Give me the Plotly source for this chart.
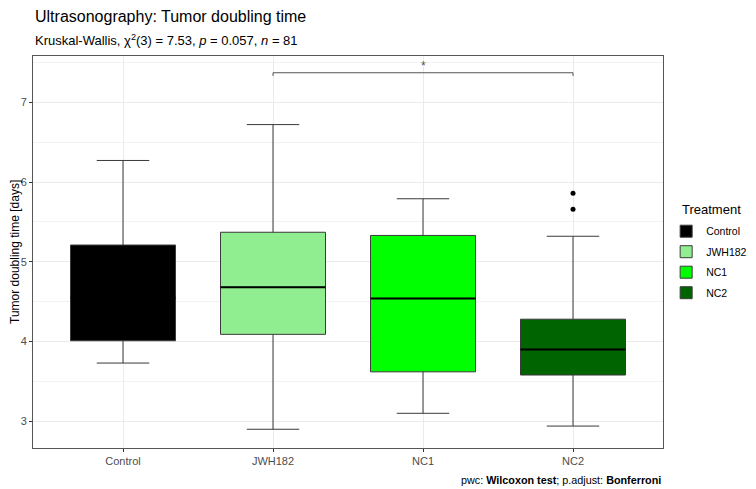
import plotly.graph_objects as go

# box statistics
groups = ["Control", "JWH182", "NC1", "NC2"]
colors = ["#000000", "#90EE90", "#00FF00", "#006400"]
q1 = [4.01, 4.09, 3.62, 3.58]
median = [4.55, 4.68, 4.54, 3.90]
q3 = [5.21, 5.37, 5.33, 4.28]
lower = [3.73, 2.90, 3.10, 2.94]
upper = [6.27, 6.72, 5.79, 5.32]

# outliers (group index, value)
out_group = [3, 3]
out_value = [5.86, 5.66]

# pairwise comparison bracket
bracket_from = 1
bracket_to = 3
bracket_y = 7.37
bracket_label = "*"

BOX_W = 0.7
FONT = "Liberation Sans, Arial, sans-serif"

fig = go.Figure()

for i, g in enumerate(groups):
    fig.add_trace(go.Box(
        x=[i], q1=[q1[i]], median=[median[i]], q3=[q3[i]],
        lowerfence=[lower[i]], upperfence=[upper[i]],
        name=g, width=BOX_W, fillcolor=colors[i],
        line=dict(color="#3a3a3a", width=1),
        boxpoints=False, hoverinfo="skip",
        legendgroup=g,
    ))
    # thicker median line like ggplot
    fig.add_trace(go.Scatter(
        x=[i - BOX_W / 2, i + BOX_W / 2], y=[median[i], median[i]],
        mode="lines", line=dict(color="#000000", width=2),
        showlegend=False, hoverinfo="skip",
    ))

fig.add_trace(go.Scatter(
    x=out_group, y=out_value, mode="markers",
    marker=dict(color="#000000", size=5),
    showlegend=False, hoverinfo="skip",
))

# bracket
tip = 0.04
fig.add_trace(go.Scatter(
    x=[bracket_from, bracket_from, bracket_to, bracket_to],
    y=[bracket_y - tip, bracket_y, bracket_y, bracket_y - tip],
    mode="lines", line=dict(color="#555555", width=1),
    showlegend=False, hoverinfo="skip",
))
fig.add_annotation(
    x=(bracket_from + bracket_to) / 2, y=bracket_y, text=bracket_label,
    showarrow=False, yanchor="bottom", yshift=-2,
    font=dict(size=12, color="#555555"),
)

# titles, axis title, legend title and caption
fig.add_annotation(
    xref="paper", yref="paper", x=0, y=1.1, xanchor="left", yanchor="middle",
    text="Ultrasonography: Tumor doubling time", showarrow=False,
    font=dict(size=16, color="#000000"),
)
fig.add_annotation(
    xref="paper", yref="paper", x=0, y=1.041, xanchor="left", yanchor="middle",
    text="Kruskal-Wallis, χ<sup>2</sup>(3) = 7.53, <i>p</i> = 0.057, <i>n</i> = 81",
    showarrow=False, font=dict(size=13, color="#000000"),
)
fig.add_annotation(
    xref="paper", yref="paper", x=0, y=0.5, xshift=-18, xanchor="center", yanchor="middle",
    text="Tumor doubling time [days]", textangle=-90, showarrow=False,
    font=dict(size=12, color="#000000"),
)
fig.add_annotation(
    xref="paper", yref="paper", x=1, y=0.609, xshift=17, xanchor="left", yanchor="middle",
    text="Treatment", showarrow=False,
    font=dict(size=13, color="#000000"),
)
fig.add_annotation(
    xref="paper", yref="paper", x=1, y=-0.082, xanchor="right", yanchor="middle",
    text="pwc: <b>Wilcoxon test</b>; p.adjust: <b>Bonferroni</b>",
    showarrow=False, font=dict(size=10.8, color="#000000"),
)

fig.update_layout(
    width=748, height=481,
    margin=dict(l=25, r=93, t=48, b=41, autoexpand=False),
    paper_bgcolor="white", plot_bgcolor="white",
    font=dict(family=FONT, size=11, color="#4d4d4d"),
    boxmode="overlay",
    showlegend=True,
    legend=dict(
        x=1.005, xanchor="left", y=0.474, yanchor="middle",
        font=dict(size=10.5, color="#000000"),
        tracegroupgap=1.5,
    ),
    xaxis=dict(
        range=[-0.6, 3.6], tickvals=list(range(len(groups))), ticktext=groups,
        showgrid=True, gridcolor="#ebebeb", gridwidth=1,
        showline=True, linecolor="#555555", linewidth=1, mirror=True,
        ticks="outside", ticklen=3, tickcolor="#333333",
        zeroline=False, automargin=False,
    ),
    yaxis=dict(
        range=[2.665, 7.58], dtick=1,
        showgrid=True, gridcolor="#ebebeb", gridwidth=1,
        minor=dict(dtick=0.5, showgrid=True, gridcolor="#f2f2f2", gridwidth=1),
        showline=True, linecolor="#555555", linewidth=1, mirror=True,
        ticks="outside", ticklen=3, tickcolor="#333333",
        zeroline=False, automargin=False,
    ),
)

fig.write_html("out.html")
